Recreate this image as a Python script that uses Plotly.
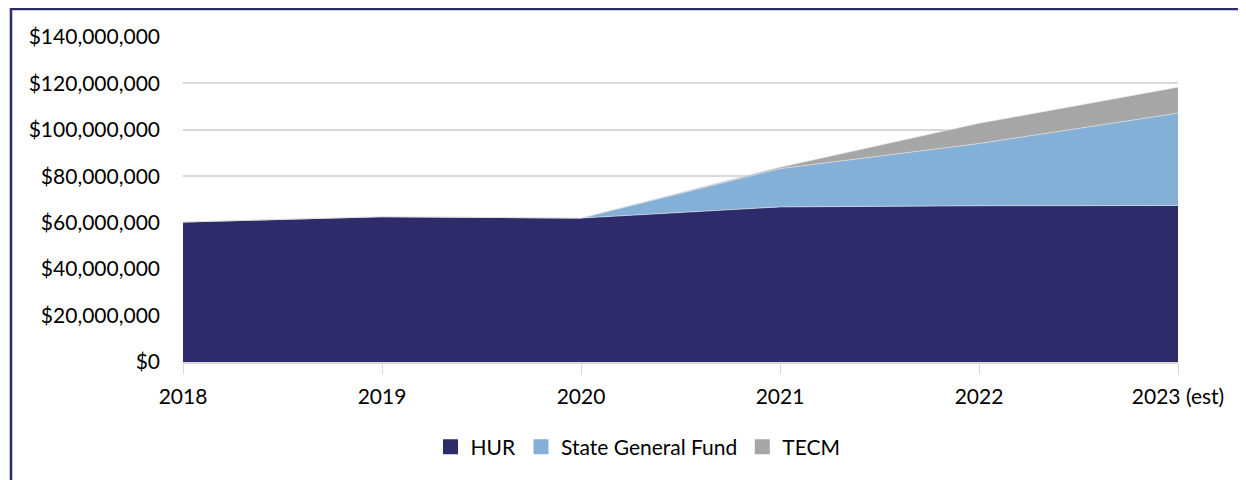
import plotly.graph_objects as go

years = ["2018", "2019", "2020", "2021", "2022", "2023 (est)"]
hur = [60.3e6, 62.6e6, 62.0e6, 66.8e6, 67.3e6, 67.4e6]
sgf = [0, 0, 0, 16.5e6, 26.8e6, 39.8e6]
tecm = [0, 0, 0, 0.6e6, 8.7e6, 11.2e6]
tick_vals = [0, 20e6, 40e6, 60e6, 80e6, 100e6, 120e6, 140e6]
tick_text = ["$0", "$20,000,000", "$40,000,000", "$60,000,000", "$80,000,000",
             "$100,000,000", "$120,000,000", "$140,000,000"]
series = [("HUR", hur, "#2e2b6b"), ("State General Fund", sgf, "#84b0d8"),
          ("TECM", tecm, "#a6a6a6")]

FONT = "Lato"
FS = 21
fig = go.Figure()
for name, vals, col in series:
    fig.add_trace(go.Scatter(x=years, y=vals, name=name, stackgroup="one", mode="lines",
                             line=dict(width=0.6, color="#e8e8e8"), fillcolor=col,
                             showlegend=False, hoverinfo="skip"))
for name, vals, col in series:
    fig.add_trace(go.Scatter(x=[None], y=[None], name=name, mode="markers",
                             marker=dict(symbol="square", size=15, color=col),
                             showlegend=True))

# page has an 8px body margin; figure coordinates = screen - 8
OFF = 8
W, H = 1246 - OFF, 480 - OFF
L, T = 183 - OFF, 37 - OFF
Rp, Bp = 1178 - OFF, 362 - OFF
R, B = W - Rp, H - Bp
pw, ph = Rp - L, Bp - T

def px(x):
    return (x - OFF - L) / pw

def py(y):
    return (Bp - (y - OFF)) / ph

fig.update_layout(
    width=W, height=H,
    margin=dict(l=L, r=R, t=T, b=B),
    paper_bgcolor="white", plot_bgcolor="white",
    font=dict(family=FONT, size=FS, color="#000000"),
    showlegend=True,
    legend=dict(orientation="h", x=px(638), xanchor="center", y=py(447), yanchor="middle",
                font=dict(size=FS, family=FONT), itemwidth=30, traceorder="normal",
                tracegroupgap=0),
    xaxis=dict(type="category", range=[0, 5], showgrid=False, showline=True,
               linecolor="#d9d9d9", linewidth=1.5, ticks="outside", ticklen=10,
               tickcolor="#d9d9d9", ticklabelstandoff=5,
               tickfont=dict(size=FS, family=FONT)),
    yaxis=dict(range=[0, 140e6], tickvals=tick_vals, ticktext=tick_text, showgrid=True,
               gridcolor="#d9d9d9", gridwidth=1.5, zeroline=False, showline=False,
               ticks="", ticklabelstandoff=22, tickfont=dict(size=FS, family=FONT)),
    shapes=[dict(type="rect", xref="paper", yref="paper", x0=px(11), x1=px(1320),
                 y0=py(9), y1=py(520), line=dict(color="#2e2b6b", width=2.5),
                 fillcolor="rgba(0,0,0,0)", layer="below")],
)

fig.write_html("out.html")
